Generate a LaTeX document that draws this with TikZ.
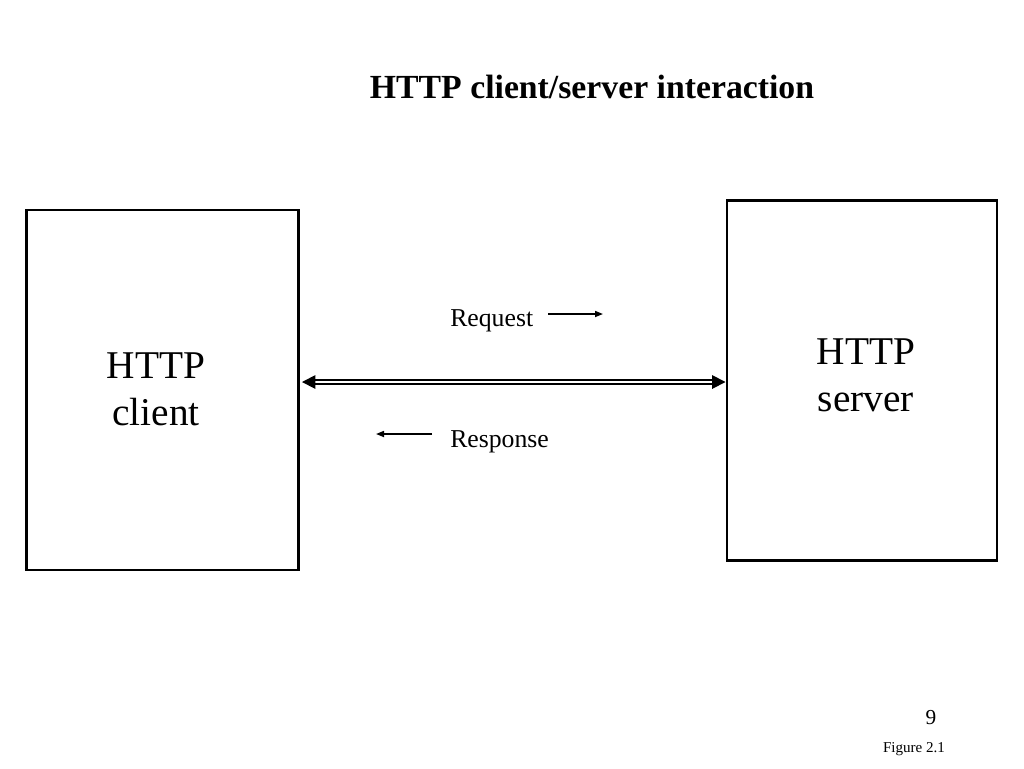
\documentclass[tikz,border=0pt]{standalone}
\usepackage{fontspec}
\setmainfont{Liberation Serif}
\usetikzlibrary{arrows.meta,calc}
\begin{document}
\begin{tikzpicture}[x=0.75pt,y=-0.75pt,
  box/.style={draw,line width=2.2pt,inner sep=0pt},
  lbl/.style={inner sep=0pt,font=\fontsize{29.5}{35}\selectfont,align=center},
  small/.style={inner sep=0pt,font=\fontsize{19.3}{23}\selectfont},
  thin/.style={line width=1.2pt,-{Triangle[length=6pt,width=4.5pt]}}]
\useasboundingbox (0,0) rectangle (1024,768);
\node[inner sep=0pt,font=\bfseries\fontsize{25.3}{30}\selectfont] (title) at (592,87) {HTTP client/server interaction};
\node[box,minimum width=204pt,minimum height=270pt] (client) at (162.5,390) {};
\node[box,minimum width=202.5pt,minimum height=269.5pt] (server) at (862,380.5) {};
\node[lbl] (ctext) at (156,389) {HTTP\\client};
\node[lbl] (stext) at (866,375) {HTTP\\server};
\coordinate (mid) at (0,382);
\draw[double,double distance=1.6pt,line width=1.3pt,{Triangle[length=10pt,width=10pt]}-{Triangle[length=10pt,width=10pt]}] ($(client.east |- mid)+(2,0)$) -- (server.west |- mid);
\node[small,anchor=base west] (req) at (450,326) {Request};
\node[small,anchor=base west] (resp) at (450,447) {Response};
\coordinate (r1) at (548,314);
\coordinate (r2) at (603,314);
\coordinate (s1) at (432,434);
\coordinate (s2) at (376,434);
\draw[thin] (r1) -- (r2);
\draw[thin] (s1) -- (s2);
\node[inner sep=0pt,font=\fontsize{16}{19}\selectfont] (pg) at (931,718) {9};
\node[inner sep=0pt,font=\fontsize{11.3}{13}\selectfont] (fig) at (914,749) {Figure 2.1};
\end{tikzpicture}
\end{document}
